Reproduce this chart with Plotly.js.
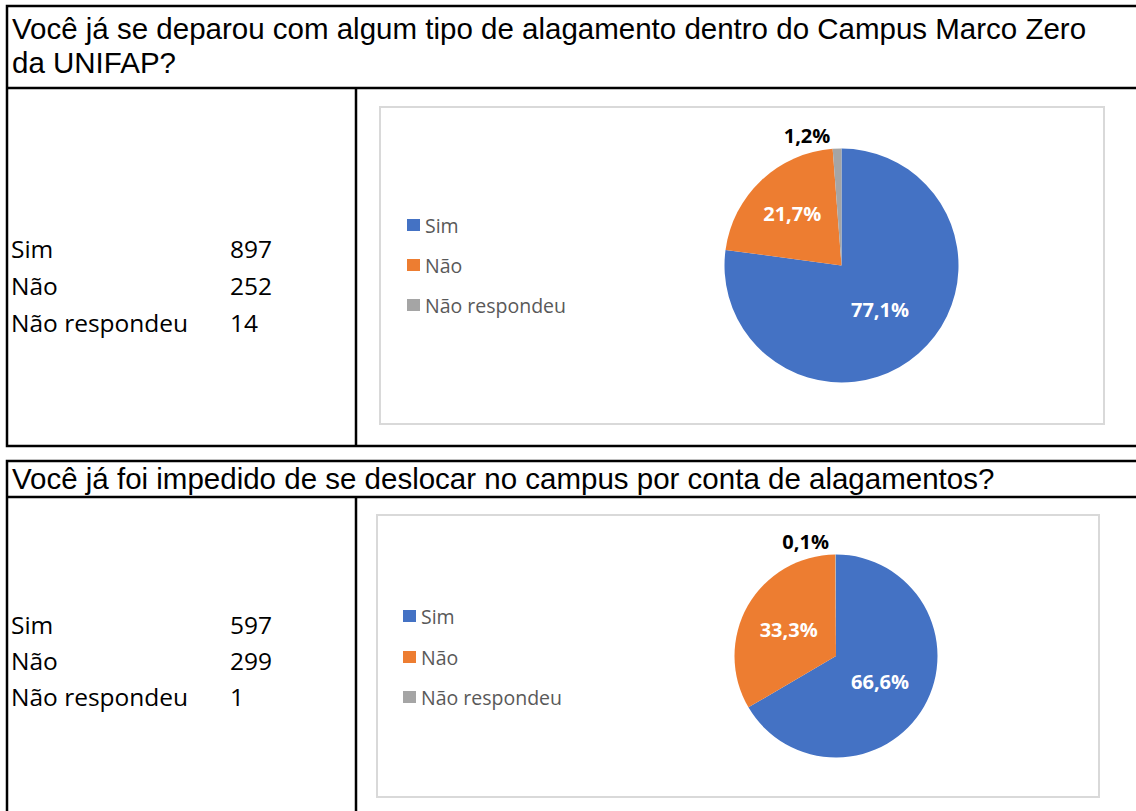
<!DOCTYPE html>
<html>
<head>
<meta charset="utf-8">
<script src="https://cdn.plot.ly/plotly-3.0.1.min.js"></script>
<style>html,body{margin:0;padding:0;background:#fff;}#chart{width:1136px;height:811px;}</style>
</head>
<body>
<div id="chart"></div>
<script>
// ---- data ----
const categories = ["Sim", "Não", "Não respondeu"];
const q1Title = ["Você já se deparou com algum tipo de alagamento dentro do Campus Marco Zero", "da UNIFAP?"];
const q1Values = [897, 252, 14];
const q2Title = ["Você já foi impedido de se deslocar no campus por conta de alagamentos?"];
const q2Values = [597, 299, 1];
const sliceColors = ["#4472C4", "#ED7D31", "#A5A5A5"];

// ---- helpers (pixel -> paper) ----
const W = 1136, H = 811;
const px = x => x / W;
const py = y => 1 - y / H;
const labelFont = "'Open Sans', 'Noto Sans', sans-serif";

function pieTrace(values, cx, cy, r) {
  return {
    type: "pie",
    labels: categories,
    values: values,
    sort: false,
    direction: "clockwise",
    rotation: 0,
    marker: {colors: sliceColors, line: {width: 0}},
    texttemplate: "%{percent:.1%}",
    textposition: ["inside", "inside", "outside"],
    insidetextorientation: "horizontal",
    textfont: {family: labelFont, size: 20, color: ["#ffffff", "#ffffff", "#000000"], weight: "bold"},
    outsidetextfont: {family: labelFont, size: 20, color: "#000000", weight: "bold"},
    hoverinfo: "label+value+percent",
    showlegend: false,
    domain: {x: [px(cx - r), px(cx + r)], y: [py(cy + r), py(cy - r)]}
  };
}

const data = [
  pieTrace(q1Values, 841.5, 265.5, 117),
  pieTrace(q2Values, 836, 656, 101.5)
];

const shapes = [];
const annotations = [];
const blk = {color: "#000", width: 2.5};

function section(top, titleBottom, bottom, frame, titleLines, titleY, values, rowsY, legendX, legendY) {
  shapes.push({type: "rect", xref: "paper", yref: "paper", x0: px(7), x1: px(1145), y0: py(top), y1: py(bottom), line: blk});
  shapes.push({type: "line", xref: "paper", yref: "paper", x0: px(7), x1: px(1145), y0: py(titleBottom), y1: py(titleBottom), line: blk});
  shapes.push({type: "line", xref: "paper", yref: "paper", x0: px(356), x1: px(356), y0: py(titleBottom), y1: py(bottom), line: blk});
  shapes.push({type: "rect", xref: "paper", yref: "paper", x0: px(frame[0]), x1: px(frame[2]), y0: py(frame[1]), y1: py(frame[3]), line: {color: "#D9D9D9", width: 2}});
  titleLines.forEach((t, k) => {
    annotations.push({xref: "paper", yref: "paper", x: px(10), y: py(titleY + k * 34), xanchor: "left", yanchor: "middle", align: "left", showarrow: false,
      text: t, font: {family: "'Liberation Sans', Arial, sans-serif", size: 29.5, color: "#000"}});
  });
  categories.forEach((c, i) => {
    annotations.push({xref: "paper", yref: "paper", x: px(9), y: py(rowsY[i]), xanchor: "left", yanchor: "middle", showarrow: false,
      text: c, font: {family: labelFont, size: 24.5, color: "#000"}});
    annotations.push({xref: "paper", yref: "paper", x: px(228), y: py(rowsY[i]), xanchor: "left", yanchor: "middle", showarrow: false,
      text: String(values[i]), font: {family: labelFont, size: 24.5, color: "#000"}});
    const ly = legendY[i];
    shapes.push({type: "rect", xref: "paper", yref: "paper", x0: px(legendX), x1: px(legendX + 13), y0: py(ly + 6), y1: py(ly - 6),
      fillcolor: sliceColors[i], line: {width: 0}});
    annotations.push({xref: "paper", yref: "paper", x: px(legendX + 16), y: py(ly), xanchor: "left", yanchor: "middle", showarrow: false,
      text: c, font: {family: labelFont, size: 19.5, color: "#595959"}});
  });
}

section(6, 88, 446, [380, 107, 1104, 424], q1Title, 29, q1Values, [249, 286, 323], 407, [225, 265, 305]);
section(461, 497, 830, [377, 515, 1099, 797], q2Title, 479, q2Values, [624, 660, 696], 403, [616, 657, 697]);

const layout = {
  width: W, height: H,
  margin: {l: 0, r: 0, t: 0, b: 0},
  paper_bgcolor: "#ffffff",
  plot_bgcolor: "#ffffff",
  separators: ",.",
  showlegend: false,
  shapes: shapes,
  annotations: annotations
};

Plotly.newPlot("chart", data, layout, {displayModeBar: false, staticPlot: true});
</script>
</body>
</html>
